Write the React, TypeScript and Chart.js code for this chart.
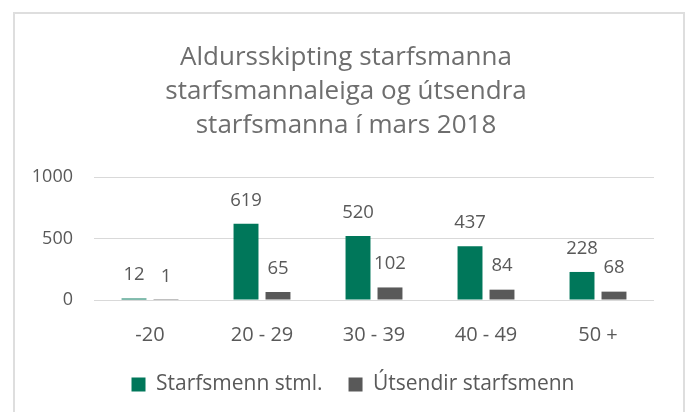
import React, { useEffect, useRef } from "react";
import { Chart, registerables } from "chart.js";

Chart.register(...registerables);

const categories = ["-20", "20 - 29", "30 - 39", "40 - 49", "50 +"];
const starfsmennStml = [12, 619, 520, 437, 228];
const utsendirStarfsmenn = [1, 65, 102, 84, 68];
const seriesNames = ["Starfsmenn stml.", "Útsendir starfsmenn"];
const titleLines = [
  "Aldursskipting starfsmanna",
  "starfsmannaleiga og útsendra",
  "starfsmanna í mars 2018",
];
const yTicks = [0, 500, 1000];

const FONT = "'Segoe UI', 'Open Sans', sans-serif";
const TEXT = "#595959";

const dataLabels = {
  id: "dataLabels",
  afterDatasetsDraw(chart: any) {
    const ctx = chart.ctx;
    ctx.save();
    ctx.font = `18.5px ${FONT}`;
    ctx.fillStyle = TEXT;
    ctx.textAlign = "center";
    ctx.textBaseline = "middle";
    chart.data.datasets.forEach((ds: any, di: number) => {
      const meta = chart.getDatasetMeta(di);
      meta.data.forEach((bar: any, i: number) => {
        ctx.fillText(String(ds.data[i]), bar.x, bar.y - 23.5);
      });
    });
    ctx.restore();
  },
};

const legendShift = {
  id: "legendShift",
  afterLayout(chart: any) {
    const lg = chart.legend;
    if (lg) {
      lg.left += 7;
      lg.right += 7;
    }
  },
};

export default function App() {
  const ref = useRef<HTMLCanvasElement>(null);
  useEffect(() => {
    const chart = new Chart(ref.current!, {
      type: "bar",
      data: {
        labels: categories,
        datasets: [
          {
            label: seriesNames[0],
            data: starfsmennStml,
            backgroundColor: "#00775A",
            categoryPercentage: 0.571,
            barPercentage: 0.78,
          },
          {
            label: seriesNames[1],
            data: utsendirStarfsmenn,
            backgroundColor: "#595959",
            categoryPercentage: 0.571,
            barPercentage: 0.78,
          },
        ],
      },
      options: {
        responsive: false,
        animation: false,
        layout: { padding: { left: 30, right: 26, top: 0, bottom: 14 } },
        plugins: {
          title: {
            display: true,
            text: titleLines,
            color: "#6e6e6e",
            font: { family: FONT, size: 26, weight: "normal", lineHeight: "34px" },
            padding: { top: 41, bottom: 34 },
          },
          legend: {
            position: "bottom",
            maxHeight: 50,
            labels: {
              boxWidth: 14,
              boxHeight: 14,
              padding: 26,
              color: TEXT,
              font: { family: FONT, size: 21 },
            },
          },
          tooltip: { enabled: false },
        },
        scales: {
          x: {
            grid: { display: false },
            border: { display: false },
            ticks: { color: TEXT, font: { family: FONT, size: 20 }, padding: 15 },
            afterFit: (s: any) => {
              s.height = 48;
            },
          },
          y: {
            min: 0,
            max: 1000,
            afterBuildTicks: (s: any) => {
              s.ticks = yTicks.map((v) => ({ value: v }));
            },
            grid: { color: "#d9d9d9", drawTicks: false },
            border: { display: false },
            ticks: {
              color: TEXT,
              font: { family: FONT, size: 18 },
              padding: 21,
              callback: (v: any) => String(v),
            },
            afterFit: (s: any) => {
              s.width = 64;
            },
          },
          y2: {
            position: "right",
            min: 0,
            max: 1000,
            grid: { display: false, drawTicks: false },
            border: { display: false },
            ticks: { display: false },
            afterFit: (s: any) => {
              s.width = 8;
            },
          },
        },
      },
      plugins: [dataLabels, legendShift],
    });
    return () => chart.destroy();
  }, []);

  return (
    <div style={{ position: "fixed", left: 0, top: 0, width: 688, height: 412, background: "#fff", overflow: "hidden" }}>
      <canvas ref={ref} width={688} height={412} style={{ position: "absolute", left: 0, top: 0 }} />
      <div
        style={{
          position: "absolute",
          left: 13,
          top: 12,
          width: 668,
          height: 420,
          borderLeft: "2px solid #dedede",
          borderRight: "2px solid #dedede",
          borderTop: "2px solid #dedede",
          boxSizing: "content-box",
          pointerEvents: "none",
        }}
      />
    </div>
  );
}
